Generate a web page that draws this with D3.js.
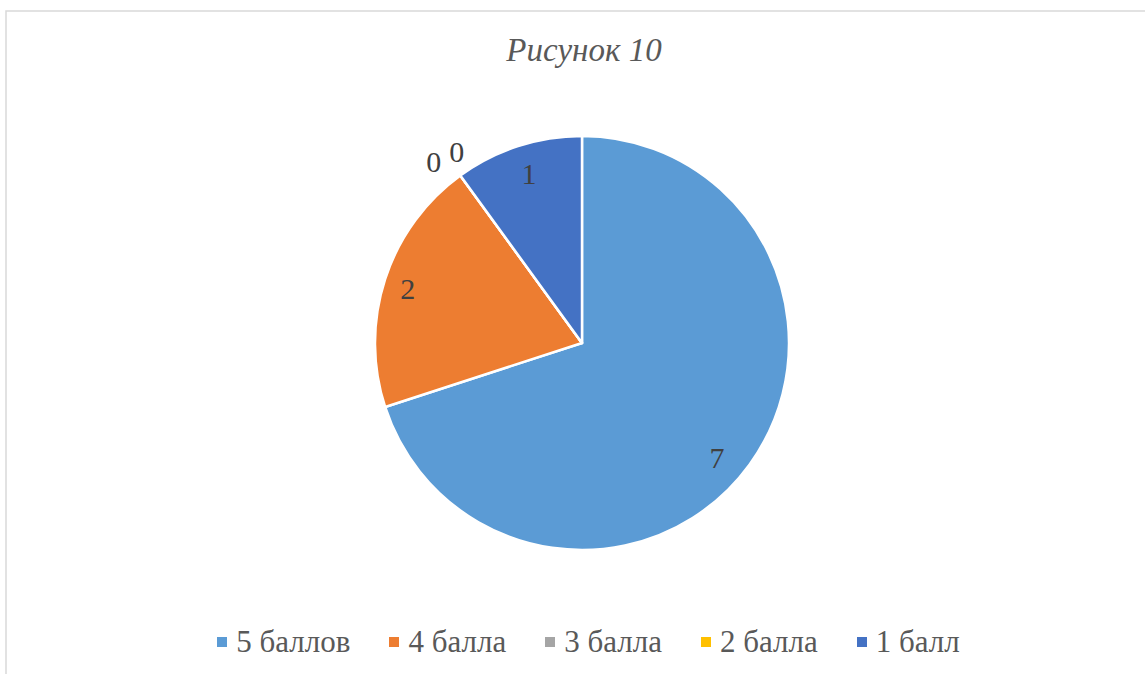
<!DOCTYPE html>
<html><head><meta charset="utf-8">
<script src="https://cdn.jsdelivr.net/npm/d3@7"></script>
<style>
html,body{margin:0;padding:0;background:#fff;}
#wrap{position:relative;width:1145px;height:674px;overflow:hidden;}
svg{display:block;position:absolute;left:0;top:0;}
#legend{position:absolute;left:0;top:626px;width:1145px;box-sizing:border-box;padding-left:32px;height:31px;
  display:flex;justify-content:center;align-items:center;font-family:"Liberation Serif";font-size:31px;line-height:31px;color:#595959;}
#legend .item{display:flex;align-items:center;margin:0 19.5px;white-space:nowrap;}
#legend .sw{width:10px;height:10px;margin-right:9px;flex:none;}
</style>
</head><body><div id="wrap"><svg id="c" width="1145" height="674"></svg><div id="legend"></div></div>
<script>
const categories = ["5 баллов", "4 балла", "3 балла", "2 балла", "1 балл"];
const values = [7, 2, 0, 0, 1];
const colors = ["#5B9BD5", "#ED7D31", "#A5A5A5", "#FFC000", "#4472C4"];
const title = "Рисунок 10";

const W = 1145, H = 674;
const svg = d3.select("#c");
const fontFam = "Liberation Serif";

// chart border
svg.append("rect").attr("x", 6).attr("y", 11).attr("width", W + 10).attr("height", H + 10)
  .attr("fill", "none").attr("stroke", "#d9d9d9").attr("stroke-width", 1.5);

svg.append("text").attr("x", 584).attr("y", 61).attr("text-anchor", "middle")
  .attr("font-family", fontFam).attr("font-style", "italic").attr("font-size", 33)
  .attr("fill", "#595959").text(title);

const cx = 582, cy = 343, R = 207;
const data = categories.map((c, i) => ({ cat: c, value: values[i], color: colors[i] }));
const pie = d3.pie().value(d => d.value).sort(null);
const arcs = pie(data);
const arc = d3.arc().innerRadius(0).outerRadius(R);
const g = svg.append("g").attr("transform", `translate(${cx},${cy})`);
g.selectAll("path").data(arcs).join("path")
  .attr("d", arc).attr("fill", d => d.data.color)
  .attr("stroke", "#fff").attr("stroke-width", 2.5).attr("stroke-linejoin", "round");

// data labels (best-fit style: inside for non-zero, outside for zero)
const inner = d3.arc().innerRadius(R * 0.86).outerRadius(R * 0.86);
const outer = d3.arc().innerRadius(R * 1.12).outerRadius(R * 1.12);
const insideNudge = [[-9, 10], [-5, 0], [0, 0], [0, 0], [2, 0]];
const zeroNudge = [[-12, 6], [11, -4]];
let zeroIdx = 0;
arcs.forEach((a, i) => {
  let x, y;
  if (a.data.value > 0) {
    [x, y] = inner.centroid(a);
    x += insideNudge[i][0]; y += insideNudge[i][1];
  } else {
    [x, y] = outer.centroid(a);
    x += zeroNudge[zeroIdx][0]; y += zeroNudge[zeroIdx][1];
    zeroIdx++;
  }
  g.append("text").attr("x", x).attr("y", y).attr("dy", "0.35em")
    .attr("text-anchor", "middle").attr("font-family", fontFam).attr("font-size", 30)
    .attr("fill", "#404040").text(a.data.value);
});

// legend (HTML flex layout)
const items = d3.select("#legend").selectAll(".item").data(data).join("div").attr("class", "item");
items.append("div").attr("class", "sw").style("background", d => d.color);
items.append("span").text(d => d.cat);
</script></body></html>
